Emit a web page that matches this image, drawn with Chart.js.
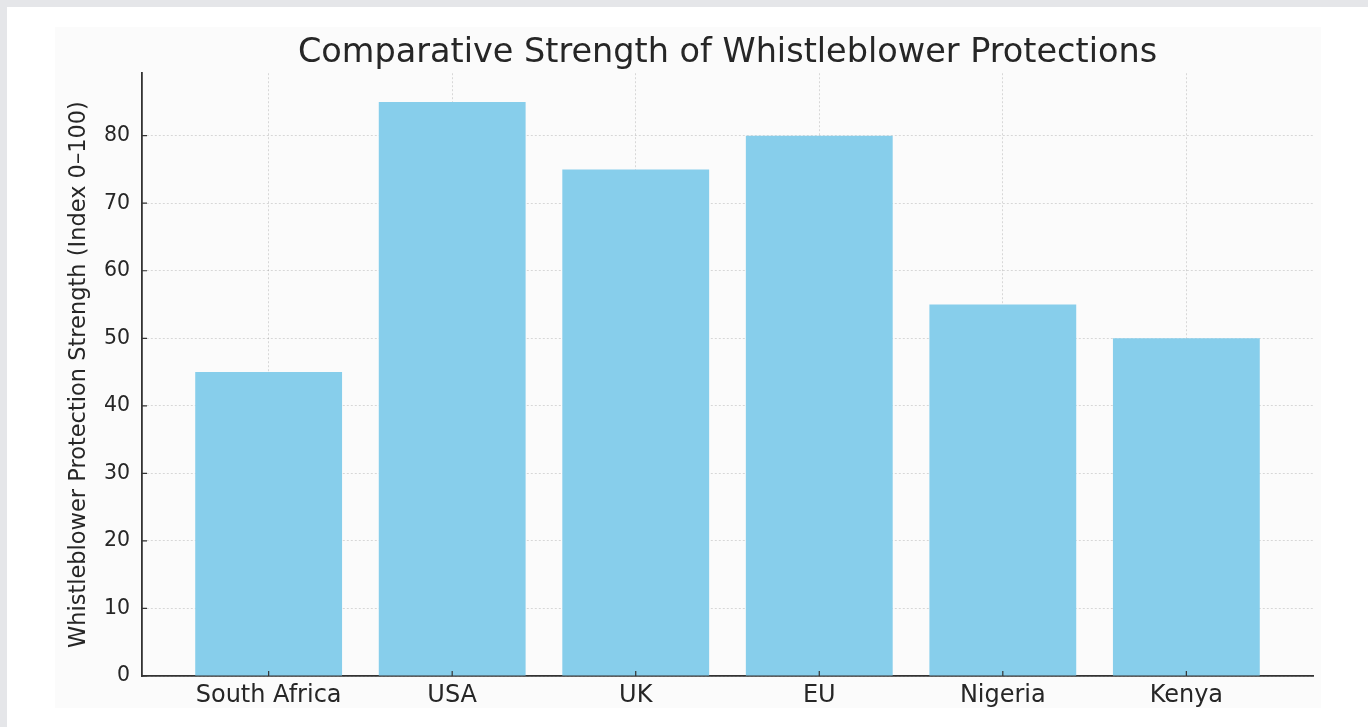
<!DOCTYPE html>
<html>
<head>
<meta charset="utf-8">
<script src="https://cdn.jsdelivr.net/npm/chart.js@4/dist/chart.umd.min.js"></script>
<style>
  html, body { margin: 0; padding: 0; }
  body { width: 1368px; height: 727px; background: #e5e6e9; position: relative; overflow: hidden; }
  .sheet { position: absolute; left: 7px; top: 7px; right: 0; bottom: 0; background: #ffffff; }
  .panel { position: absolute; left: 55px; top: 27px; width: 1266px; height: 681px; background: #fbfbfb; }
  .chart-box { position: absolute; left: 7px; top: 7px; width: 1361px; height: 720px; }
</style>
</head>
<body>
<div class="sheet"></div>
<div class="panel"></div>
<div class="chart-box"><canvas id="chartWB"></canvas></div>
<script>
const countries = ["South Africa", "USA", "UK", "EU", "Nigeria", "Kenya"];
const strength = [45, 85, 75, 80, 55, 50];
const yTicks = [0, 10, 20, 30, 40, 50, 60, 70, 80];

const FONT = "'DejaVu Sans', sans-serif";
const AXIS = "#333333";

// matplotlib-style inward tick marks
const innerTicks = {
  id: "innerTicks",
  afterDatasetsDraw(chart) {
    const { ctx, scales: { x, y }, chartArea } = chart;
    ctx.save();
    ctx.strokeStyle = AXIS;
    ctx.lineWidth = 1.2;
    ctx.beginPath();
    countries.forEach((c, i) => {
      const px = x.getPixelForValue(i);
      ctx.moveTo(px, chartArea.bottom);
      ctx.lineTo(px, chartArea.bottom - 5);
    });
    yTicks.forEach(v => {
      const py = y.getPixelForValue(v);
      ctx.moveTo(chartArea.left, py);
      ctx.lineTo(chartArea.left + 5, py);
    });
    ctx.stroke();
    ctx.restore();
  }
};

const ctx = document.getElementById("chartWB").getContext("2d");

new Chart(ctx, {
  type: "bar",
  data: {
    datasets: [
      {
        label: "Strength",
        data: strength.map((v, i) => ({ x: i, y: v })),
        backgroundColor: "#87ceeb",
        borderWidth: 0,
        categoryPercentage: 0.8,
        barPercentage: 1.0
      }
    ]
  },
  options: {
    responsive: true,
    maintainAspectRatio: false,
    animation: false,
    layout: {
      padding: { left: 0, right: 55, top: 0, bottom: 0 }
    },
    plugins: {
      legend: { display: false },
      tooltip: { enabled: false },
      title: {
        display: true,
        text: "Comparative Strength of Whistleblower Protections",
        fullSize: false,
        color: "#262626",
        font: { family: FONT, size: 33.5, weight: "normal" },
        padding: { top: 26, bottom: 0 }
      }
    },
    scales: {
      x: {
        type: "linear",
        offset: false,
        min: -0.69,
        max: 5.69,
        afterBuildTicks: (axis) => {
          axis.ticks = countries.map((c, i) => ({ value: i }));
        },
        afterFit: (axis) => { axis.height = 51; },
        ticks: {
          color: "#262626",
          padding: 5,
          maxRotation: 0,
          autoSkip: false,
          font: { family: FONT, size: 24 },
          callback: (v) => countries[v]
        },
        grid: {
          offset: false,
          color: "rgba(0,0,0,0.14)",
          lineWidth: 1,
          drawTicks: false
        },
        border: { color: AXIS, width: 1.8, dash: [2, 2] }
      },
      y: {
        min: 0,
        max: 89.25,
        afterBuildTicks: (axis) => {
          axis.ticks = yTicks.map(v => ({ value: v }));
        },
        afterFit: (axis) => { axis.width = 135; },
        ticks: {
          color: "#262626",
          padding: 12,
          font: { family: FONT, size: 20.5 }
        },
        grid: {
          color: "rgba(0,0,0,0.14)",
          lineWidth: 1,
          drawTicks: false
        },
        border: { color: AXIS, width: 1.8, dash: [2, 2] },
        title: {
          display: true,
          text: "Whistleblower Protection Strength (Index 0–100)",
          color: "#262626",
          font: { family: FONT, size: 22.5 },
          padding: { top: 59, bottom: 0 }
        }
      }
    }
  },
  plugins: [innerTicks]
});
</script>
</body>
</html>
